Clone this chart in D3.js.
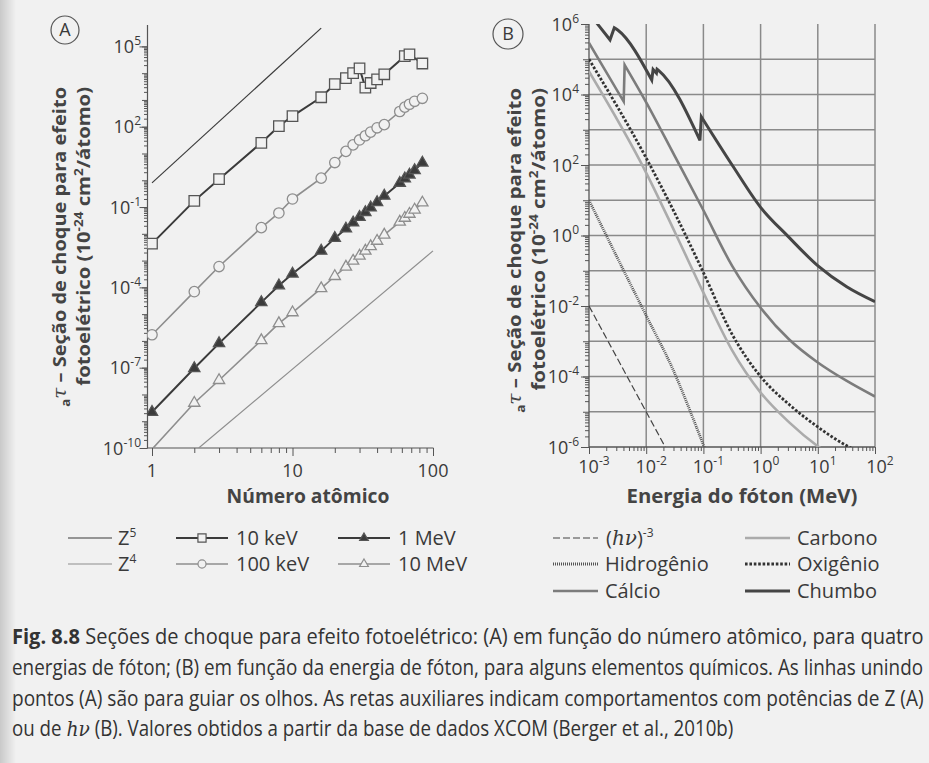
<!DOCTYPE html>
<html>
<head>
<meta charset="utf-8">
<script src="https://cdn.jsdelivr.net/npm/d3@7"></script>
<style>
  body { margin: 0; background: #f1f1f1; }
</style>
</head>
<body>
<div id="chart"></div>
<script>
// ---------- Painel A : secao de choque x numero atomico ----------
const zA = [1, 2, 3, 6, 8, 10, 16, 20, 24, 27, 30, 33, 36, 40, 45, 58, 63, 68, 74, 84];
const kev10  = [4.3e-3, 0.17, 1.1, 25, 105, 250, 1260, 3900, 6500, 1.0e4, 1.5e4, 2900, 4300, 5900, 9100, null, 4.3e4, 5.0e4, null, 2.3e4];
const kev100 = [1.7e-6, 6.9e-5, 6.0e-4, 0.017, 0.06, 0.2, 1.2, 4.6, 12, 21, 32, 46, 63, 91, 120, 370, 540, 690, 890, 1150];
const mev1   = [2.2e-9, 9.5e-8, 8.1e-7, 2.75e-5, 1.17e-4, 3.2e-4, 2.3e-3, 6.9e-3, 0.0155, 0.026, 0.042, 0.064, 0.095, 0.15, 0.26, 0.79, 1.15, 1.6, 2.35, 4.5];
const mev10  = [9.0e-11, 4.8e-9, 3.4e-8, 1.05e-6, 4.5e-6, 1.15e-5, 9.1e-5, 2.6e-4, 5.8e-4, 9.7e-4, 1.5e-3, 2.3e-3, 3.4e-3, 5.4e-3, 9.1e-3, 0.028, 0.039, 0.055, 0.079, 0.145];
// retas auxiliares (extremos)
const refZ5 = [[1, 0.8], [16, 4.8e5]];
const refZ4 = [[2.15, 1e-10], [100, 2.3e-3]];

// ---------- Painel B : secao de choque x energia (MeV) ----------
const chumboE = [1e-3, 1.46e-3, 2.33e-3, 2.77e-3, 3.18e-3, 1.25e-2, 1.32e-2, 1.51e-2, 1.55e-2, 1.68e-2, 8.7e-2, 9.2e-2, 0.333, 1.0, 3.05, 10.2, 32, 100];
const chumboS = [2.04e6, 9.3e5, 3.55e5, 7.85e5, 6.76e5, 2.57e4, 5.1e4, 4.0e4, 5.2e4, 4.7e4, 500, 2340, 89, 6.3, 0.93, 0.135, 0.035, 0.0132];
const calcioE = [1e-3, 4.04e-3, 4.2e-3, 1e-2, 3.16e-2, 0.1, 0.316, 1, 3.16, 10, 31.6, 100];
const calcioS = [2.9e5, 6.3e3, 6.9e4, 6.0e3, 178, 5.2, 0.14, 8.9e-3, 1.12e-3, 2.5e-4, 7.6e-5, 2.7e-5];
const oxigenioE = [1e-3, 1e-2, 3.16e-2, 0.1, 0.316, 1, 3.16, 10, 31.6, 63];
const oxigenioS = [1.0e5, 158, 4.3, 0.089, 1.6e-3, 1.0e-4, 1.6e-5, 3.7e-6, 1.1e-6, 6.3e-7];
const carbonoE = [1e-3, 1e-2, 3.16e-2, 0.1, 0.316, 1, 3.16, 10, 15.8];
const carbonoS = [4.5e4, 60, 1.26, 0.024, 5.6e-4, 3.5e-5, 5.0e-6, 1.05e-6, 6.3e-7];
const hidrogenioE = [1e-3, 4.26e-3, 1.02e-2, 2.79e-2, 0.1, 0.107];
const hidrogenioS = [10, 0.085, 5.0e-3, 1.9e-4, 1.15e-6, 8.7e-7];
const hvE = [1e-3, 2.15e-2];
const hvS = [1e-2, 1e-6];

const captionLines = [
  ["Fig. 8.8", " Seções de choque para efeito fotoelétrico: (A) em função do número atômico, para quatro"],
  ["", "energias de fóton; (B) em função da energia de fóton, para alguns elementos químicos. As linhas unindo"],
  ["", "pontos (A) são para guiar os olhos. As retas auxiliares indicam comportamentos com potências de Z (A)"],
  ["", "ou de |hν| (B). Valores obtidos a partir da base de dados XCOM (Berger et al., 2010b)"]
];

// ---------- estilos ----------
const W = 929, H = 763;
const bg = "#f1f1f1", ink = "#3a3a3a";
const dark = "#3b3b3b", grey = "#8e8e8e", light = "#ababab";
const font = "'Open Sans', 'Noto Sans', sans-serif";

const svg = d3.select("#chart").append("svg")
  .attr("width", W).attr("height", H)
  .style("font-family", font);

const defs = svg.append("defs");
const edge = defs.append("linearGradient").attr("id", "edge").attr("x1", 0).attr("x2", 1);
edge.append("stop").attr("offset", 0).attr("stop-color", "#c9c9c9");
edge.append("stop").attr("offset", 1).attr("stop-color", bg);
svg.append("rect").attr("width", W).attr("height", H).attr("fill", bg);
svg.append("rect").attr("width", 16).attr("height", H).attr("fill", "url(#edge)");

// ajusta a largura de um texto comprimindo-o na horizontal
function fitText(t, x, y, target, rot) {
  const w = t.node().getComputedTextLength();
  const s = target / w;
  t.attr("transform", `translate(${x},${y})${rot ? " rotate(-90)" : ""} scale(${s},1)`);
}

function powLabel(g, x, y, exp, anchor) {
  const t = g.append("text").attr("x", x).attr("y", y)
    .attr("text-anchor", anchor).attr("font-size", 18).attr("fill", ink);
  t.append("tspan").text("10");
  t.append("tspan").attr("dy", -8).attr("font-size", 12).text(exp);
}

function decadeTicks(k0, k1) {
  const minor = [], major = [];
  for (let k = k0; k < k1; k++) {
    major.push(Math.pow(10, k));
    for (let m = 2; m < 10; m++) minor.push(m * Math.pow(10, k));
  }
  major.push(Math.pow(10, k1));
  return { minor, major };
}

function tickAxis(g, axisFn, scale, vals, size) {
  g.append("g").call(axisFn(scale).tickValues(vals).tickSize(size).tickFormat(""))
    .call(s => s.select(".domain").remove())
    .call(s => s.selectAll("line").attr("stroke", "#555"));
}

function yTitle(g, x, top, len1, len2) {
  const t1 = g.append("text").attr("text-anchor", "end").attr("font-size", 18)
    .attr("font-weight", 700).attr("fill", "#444");
  t1.append("tspan").attr("font-size", 12).attr("dy", 4).text("a");
  t1.append("tspan").attr("dy", -4).attr("font-style", "italic").attr("font-weight", 400)
    .attr("font-family", "'DejaVu Serif', serif").text("τ");
  t1.append("tspan").text(" – Seção de choque para efeito");
  fitText(t1, x, top, len1, true);
  const t2 = g.append("text").attr("text-anchor", "end").attr("font-size", 18)
    .attr("font-weight", 700).attr("fill", "#444");
  t2.append("tspan").text("fotoelétrico (10");
  t2.append("tspan").attr("dy", -7).attr("font-size", 12).text("-24");
  t2.append("tspan").attr("dy", 7).text(" cm");
  t2.append("tspan").attr("dy", -7).attr("font-size", 12).text("2");
  t2.append("tspan").attr("dy", 7).text("/átomo)");
  fitText(t2, x + 24, top, len2, true);
}

function circled(g, x, y, r, letter) {
  g.append("circle").attr("cx", x).attr("cy", y).attr("r", r)
    .attr("fill", "none").attr("stroke", "#555").attr("stroke-width", 1.2);
  g.append("text").attr("x", x).attr("y", y + 6).attr("text-anchor", "middle")
    .attr("font-size", 18).attr("fill", ink).text(letter);
}

// ================= Painel A =================
const gA = svg.append("g");
const xA = d3.scaleLog().domain([1, 100]).range([152, 433]);
const yA = d3.scaleLog().domain([1e-10, 6.3e5]).range([448, 25]);
const axA = 147.5;

gA.append("line").attr("x1", axA).attr("x2", axA).attr("y1", 25).attr("y2", 448)
  .attr("stroke", "#555").attr("stroke-width", 1.2);
gA.append("line").attr("x1", axA).attr("x2", 433.5).attr("y1", 448).attr("y2", 448)
  .attr("stroke", "#555").attr("stroke-width", 1.2);

const tyA = decadeTicks(-10, 5);
const yAxA = gA.append("g").attr("transform", `translate(${axA},0)`);
tickAxis(yAxA, d3.axisLeft, yA, tyA.minor.filter(v => v < 6.3e5), 3.5);
tickAxis(yAxA, d3.axisLeft, yA, tyA.major, 5.5);
const labA = [-10, -7, -4, -1, 2, 5];
tickAxis(yAxA, d3.axisLeft, yA, labA.map(k => Math.pow(10, k)), 8);
labA.forEach(k => powLabel(gA, 141, yA(Math.pow(10, k)) + 6.5, String(k), "end"));

const txA = decadeTicks(0, 2);
const xAxA = gA.append("g").attr("transform", "translate(0,448)");
tickAxis(xAxA, d3.axisBottom, xA, txA.minor, 5);
tickAxis(xAxA, d3.axisBottom, xA, txA.major, 8);
txA.major.forEach(v => gA.append("text").attr("x", xA(v)).attr("y", 477)
  .attr("text-anchor", "middle").attr("font-size", 18).attr("fill", ink).text(d3.format("d")(v)));

const titA = gA.append("text").attr("text-anchor", "middle")
  .attr("font-size", 19).attr("font-weight", 700).attr("fill", "#444").text("Número atômico");
fitText(titA, 308, 503, 163);
yTitle(gA, 66, 87, 320, 299);
circled(gA, 65, 30, 14, "A");

defs.append("clipPath").attr("id", "clipA").append("rect")
  .attr("x", axA).attr("y", 15).attr("width", 300).attr("height", 433);
const plotA = gA.append("g").attr("clip-path", "url(#clipA)");
const lineA = d3.line().x(d => xA(d[0])).y(d => yA(d[1]));

plotA.append("path").attr("d", lineA(refZ5)).attr("fill", "none").attr("stroke", dark).attr("stroke-width", 1.2);
plotA.append("path").attr("d", lineA(refZ4)).attr("fill", "none").attr("stroke", grey).attr("stroke-width", 1.2);

const seriesA = [
  { vals: kev100, color: grey, sym: d3.symbolCircle, size: 85, fill: bg, lw: 1.6 },
  { vals: mev10, color: grey, sym: d3.symbolTriangle, size: 55, fill: bg, lw: 1.6 },
  { vals: mev1, color: dark, sym: d3.symbolTriangle, size: 55, fill: dark, lw: 2 },
  { vals: kev10, color: dark, sym: d3.symbolSquare, size: 110, fill: bg, lw: 2 }
];
seriesA.forEach(s => {
  const pts = zA.map((z, i) => [z, s.vals[i]]).filter(d => d[1] != null);
  plotA.append("path").attr("d", lineA(pts)).attr("fill", "none")
    .attr("stroke", s.color).attr("stroke-width", s.lw);
  plotA.selectAll(null).data(pts.filter(d => d[1] >= 1e-10)).join("path")
    .attr("transform", d => `translate(${xA(d[0])},${yA(d[1])})`)
    .attr("d", d3.symbol(s.sym, s.size))
    .attr("fill", s.fill).attr("stroke", s.color === dark ? "#555" : grey).attr("stroke-width", 1.3);
});

// ================= Painel B =================
const gB = svg.append("g");
const xB = d3.scaleLog().domain([1e-3, 100]).range([589, 875]);
const yB = d3.scaleLog().domain([1e-6, 1e6]).range([447, 24]);

const gridX = [1e-2, 1e-1, 1, 10, 100];
const gridY = d3.range(-5, 6).map(k => Math.pow(10, k));
gB.selectAll(null).data(gridX).join("line")
  .attr("x1", d => xB(d)).attr("x2", d => xB(d)).attr("y1", 24).attr("y2", 447)
  .attr("stroke", "#8a8a8a").attr("stroke-width", 1.5);
gB.selectAll(null).data(gridY).join("line")
  .attr("x1", 589).attr("x2", 875).attr("y1", d => yB(d)).attr("y2", d => yB(d))
  .attr("stroke", "#8a8a8a").attr("stroke-width", 1.5);
gB.append("line").attr("x1", 589).attr("x2", 589).attr("y1", 24).attr("y2", 447)
  .attr("stroke", "#555").attr("stroke-width", 1.3);
gB.append("line").attr("x1", 589).attr("x2", 875).attr("y1", 447).attr("y2", 447)
  .attr("stroke", "#555").attr("stroke-width", 1.3);

const tyB = decadeTicks(-6, 6);
const yAxB = gB.append("g").attr("transform", "translate(589,0)");
tickAxis(yAxB, d3.axisLeft, yB, tyB.minor, 4);
tickAxis(yAxB, d3.axisLeft, yB, tyB.major, 6);
const labBy = [6, 4, 2, 0, -2, -4, -6];
tickAxis(yAxB, d3.axisLeft, yB, labBy.map(k => Math.pow(10, k)), 8);
labBy.forEach(k => powLabel(gB, 579, yB(Math.pow(10, k)) + 6.5, String(k), "end"));

const txB = decadeTicks(-3, 2);
const xAxB = gB.append("g").attr("transform", "translate(0,447)");
tickAxis(xAxB, d3.axisBottom, xB, txB.minor, 4);
tickAxis(xAxB, d3.axisBottom, xB, txB.major, 7);
d3.range(-3, 3).forEach(k => powLabel(gB, xB(Math.pow(10, k)) + 5, 473, String(k), "middle"));

const titB = gB.append("text").attr("text-anchor", "middle")
  .attr("font-size", 19).attr("font-weight", 700).attr("fill", "#444").text("Energia do fóton (MeV)");
fitText(titB, 742, 503, 231);
yTitle(gB, 521, 88, 325, 303);
circled(gB, 508, 34, 15, "B");

defs.append("clipPath").attr("id", "clipB").append("rect")
  .attr("x", 589).attr("y", 24).attr("width", 286).attr("height", 423);
const plotB = gB.append("g").attr("clip-path", "url(#clipB)");
const smooth = d3.line().x(d => xB(d[0])).y(d => yB(d[1])).curve(d3.curveMonotoneX);

// trechos suaves entre as bordas de absorcao, bordas em linha reta
function edgePath(pts) {
  const segs = [];
  let cur = [pts[0]];
  for (let i = 1; i < pts.length; i++) {
    if (pts[i][1] > pts[i - 1][1]) {
      segs.push(cur);
      cur = [pts[i - 1], pts[i]];
      segs.push(cur);
      cur = [pts[i]];
    } else cur.push(pts[i]);
  }
  segs.push(cur);
  return segs.filter(s => s.length > 1)
    .map((s, i) => { const d = smooth(s); return i ? "L" + d.slice(1) : d; })
    .join("");
}

const seriesB = [
  { name: "(hν)", E: hvE, S: hvS, color: "#444", lw: 1.2, dash: "7,3" },
  { name: "Hidrogênio", E: hidrogenioE, S: hidrogenioS, color: "#555", lw: 2.8, dash: "1,1" },
  { name: "Carbono", E: carbonoE, S: carbonoS, color: light, lw: 2.6, dash: null },
  { name: "Cálcio", E: calcioE, S: calcioS, color: "#7c7c7c", lw: 2.6, dash: null },
  { name: "Oxigênio", E: oxigenioE, S: oxigenioS, color: "#333", lw: 2.8, dash: "2.6,1.8" },
  { name: "Chumbo", E: chumboE, S: chumboS, color: "#454545", lw: 3, dash: null }
];
seriesB.forEach(s => {
  plotB.append("path").attr("d", edgePath(s.E.map((e, i) => [e, s.S[i]])))
    .attr("fill", "none").attr("stroke", s.color).attr("stroke-width", s.lw)
    .attr("stroke-linejoin", "miter").attr("stroke-dasharray", s.dash);
});

// ================= Legenda =================
const gL = svg.append("g").attr("font-size", 20).attr("fill", ink);
const rowY = [538, 564, 591];
function legLine(x1, x2, y, color, lw, dash) {
  gL.append("line").attr("x1", x1).attr("x2", x2).attr("y1", y).attr("y2", y)
    .attr("stroke", color).attr("stroke-width", lw).attr("stroke-dasharray", dash);
}
function legText(x, y, txt, sup) {
  const t = gL.append("text").attr("x", x).attr("y", y + 7);
  t.append("tspan").text(txt);
  if (sup) t.append("tspan").attr("dy", -8).attr("font-size", 12).text(sup);
  return t;
}
legLine(68, 112, rowY[0], dark, 1.2); legText(118, rowY[0], "Z", "5");
legLine(68, 112, rowY[1], grey, 1.2); legText(118, rowY[1], "Z", "4");
const legA = [
  { s: seriesA[3], x: 176, row: 0, txt: "10 keV" },
  { s: seriesA[0], x: 176, row: 1, txt: "100 keV" },
  { s: seriesA[2], x: 338, row: 0, txt: "1 MeV" },
  { s: seriesA[1], x: 338, row: 1, txt: "10 MeV" }
];
legA.forEach(d => {
  const y = rowY[d.row];
  legLine(d.x, d.x + 52, y, d.s.color, d.s.lw);
  gL.append("path").attr("transform", `translate(${d.x + 26},${y})`)
    .attr("d", d3.symbol(d.s.sym, d.s.size * 0.6))
    .attr("fill", d.s.fill).attr("stroke", d.s.color === dark ? "#555" : grey).attr("stroke-width", 1.2);
  legText(d.x + 60, y, d.txt);
});
const legB = [
  { s: seriesB[0], x: 553, row: 0 },
  { s: seriesB[1], x: 553, row: 1 },
  { s: seriesB[3], x: 553, row: 2 },
  { s: seriesB[2], x: 745, row: 0 },
  { s: seriesB[4], x: 745, row: 1 },
  { s: seriesB[5], x: 745, row: 2 }
];
legB.forEach(d => {
  const y = rowY[d.row];
  legLine(d.x, d.x + 45, y, d.s.color, d.s.lw, d.s.dash);
  if (d.s.name === "(hν)") {
    const t = gL.append("text").attr("x", d.x + 53).attr("y", y + 7);
    t.append("tspan").text("(");
    t.append("tspan").attr("font-family", "'DejaVu Serif', serif").attr("font-style", "italic").text("hν");
    t.append("tspan").text(")");
    t.append("tspan").attr("dy", -8).attr("font-size", 12).text("-3");
  } else {
    legText(d.x + 52, y, d.s.name);
  }
});

// ================= Legenda da figura =================
const gC = svg.append("g").attr("font-size", 21).attr("fill", "#333");
const capY = [644, 675, 706, 736];
const capLen = [912, 912, 912, 722];
captionLines.forEach((ln, i) => {
  const t = gC.append("text");
  if (ln[0]) t.append("tspan").attr("font-weight", 700).text(ln[0]);
  ln[1].split("|").forEach((part, j) => {
    const sp = t.append("tspan").text(part);
    if (j % 2 === 1) sp.attr("font-family", "'DejaVu Serif', serif").attr("font-style", "italic");
  });
  fitText(t, 12, capY[i], capLen[i]);
});
</script>
</body>
</html>
